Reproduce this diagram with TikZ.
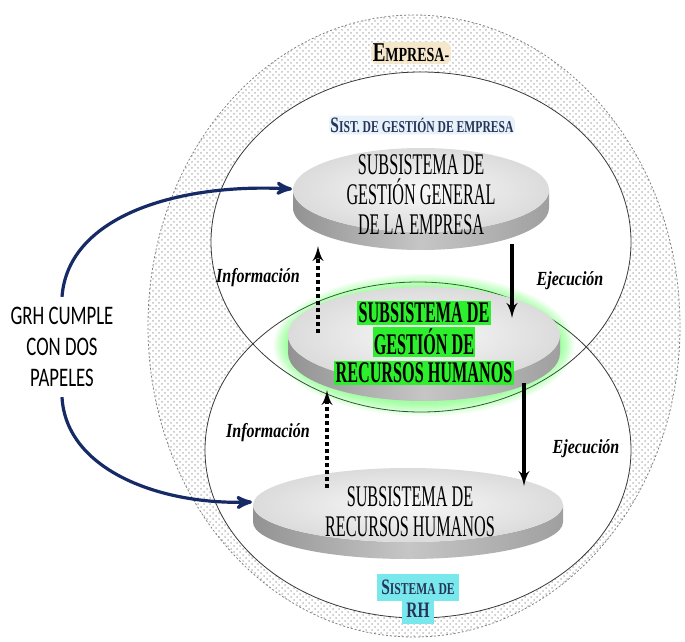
\documentclass[tikz,border=0pt]{standalone}
\usepackage{fontspec}
\setmainfont{Liberation Serif}
\newfontfamily\grhfont{Carlito}
\usetikzlibrary{arrows,patterns}

\definecolor{navy}{RGB}{22,42,102}
\definecolor{glowgreen}{RGB}{45,240,45}
\definecolor{glowcyan}{RGB}{120,232,236}
\definecolor{glowblue}{RGB}{215,234,248}
\definecolor{glowgold}{RGB}{236,212,160}
\definecolor{sisttext}{RGB}{38,52,88}

% disco: centro x, centro y, radio x, radio y, grosor
\newcommand{\disco}[5]{%
  \shade[left color=gray!85,right color=gray!75,middle color=gray!45]
    (#1-#3,#2) arc[start angle=180,end angle=0,x radius=#3,y radius=#4]
    -- ++(0,#5) arc[start angle=0,end angle=180,x radius=#3,y radius=#4] -- cycle;
  \shade[inner color=gray!5,outer color=gray!28] (#1,#2) ellipse[x radius=#3,y radius=#4];
}
\newcommand{\verde}[1]{{\setlength{\fboxsep}{1pt}\colorbox{glowgreen}{#1}}}

\begin{document}
\begin{tikzpicture}[x=0.5pt,y=-0.5pt,>=latex',
  disctext/.style={align=center,inner sep=0pt,font=\fontsize{15}{15}\selectfont},
  flujo/.style={inner sep=0pt,xscale=0.8,font=\fontsize{10}{12}\selectfont\bfseries\itshape},
  rotulo/.style={align=center,inner sep=1pt,xscale=0.7,font=\bfseries},
  info/.style={->,line width=1.6pt,dash pattern=on 2pt off 1.5pt},
  ejec/.style={->,line width=1.6pt},
  papel/.style={->,>=stealth',navy,line width=1.6pt},
  borde/.style={gray!45!black,line width=0.4pt}]
\useasboundingbox (0,0) rectangle (685,642);

% sistema empresa (anillo exterior)
\fill[pattern=crosshatch dots,pattern color=gray!50] (414,326) ellipse[x radius=266,y radius=311];
\draw[gray,dash pattern=on 1pt off 1pt] (414,326) ellipse[x radius=266,y radius=311];
\node[rotulo,fill=glowgold!55,rounded corners=3pt] (empresa) at (411,53)
  {{\fontsize{13.6}{14}\selectfont E}{\fontsize{10}{12}\selectfont MPRESA-}};

% los dos sistemas
\fill[white] (421,242) ellipse[x radius=210,y radius=170];
\fill[white] (418,450) ellipse[x radius=213,y radius=168];
\draw[borde] (421,242) ellipse[x radius=210,y radius=170];
\draw[borde] (418,450) ellipse[x radius=213,y radius=168];

\node[rotulo,text=sisttext,fill=glowblue!60,rounded corners=3pt] (sge) at (422,125)
  {{\fontsize{11}{12}\selectfont S}{\fontsize{8.3}{10}\selectfont IST. DE GESTIÓN DE EMPRESA}};
\node[rotulo,text=sisttext,inner sep=0pt] (srh) at (418,599)
  {\colorbox{glowcyan}{{\fontsize{11}{12}\selectfont S}{\fontsize{8.3}{10}\selectfont ISTEMA DE}}\\[-3pt]
   \colorbox{glowcyan}{\fontsize{11}{12}\selectfont RH}};

% discos
\disco{421}{190}{128}{42}{18}
\foreach \g in {2,4,...,14}
  \fill[green,opacity=0.06] (424,345) ellipse[x radius={136+\g},y radius={57+\g}];
\disco{424}{335}{136}{48}{18}
\disco{408}{505}{155}{37}{17}

\node[disctext,xscale=0.54] (gg) at (421,195) {SUBSISTEMA DE\\GESTIÓN GENERAL\\DE LA EMPRESA};
\node[disctext,xscale=0.54,font=\fontsize{15}{14}\selectfont\bfseries] (grh) at (424,343)
  {\verde{SUBSISTEMA DE}\\\verde{GESTIÓN DE}\\\verde{RECURSOS HUMANOS}};
\node[disctext,xscale=0.54] (rh) at (410,512) {SUBSISTEMA DE\\RECURSOS HUMANOS};

% flujos entre subsistemas
\coordinate (i1a) at (318,333);
\coordinate (i1b) at (318,246);
\coordinate (e1a) at (512,244);
\coordinate (e1b) at (512,318);
\coordinate (i2a) at (327,488);
\coordinate (i2b) at (327,390);
\coordinate (e2a) at (524,383);
\coordinate (e2b) at (524,486);
\draw[info] (i1a) -- (i1b);
\draw[ejec] (e1a) -- (e1b);
\draw[info] (i2a) -- (i2b);
\draw[ejec] (e2a) -- (e2b);

\node[flujo] (inf1) at (258,278) {Información};
\node[flujo] (eje1) at (570,281) {Ejecución};
\node[flujo] (inf2) at (268,433) {Información};
\node[flujo] (eje2) at (586,449) {Ejecución};

% los dos papeles
\node[align=center,inner sep=5pt,xscale=0.7,font=\grhfont\fontsize{13.4}{15.5}\selectfont] (dos) at (62,347)
  {GRH CUMPLE\\CON DOS\\PAPELES};
\draw[papel] (dos.north) .. controls (68,215) and (180,183) .. (292,189);
\draw[papel] (dos.south) .. controls (66,470) and (160,505) .. (252,502);
\end{tikzpicture}
\end{document}
